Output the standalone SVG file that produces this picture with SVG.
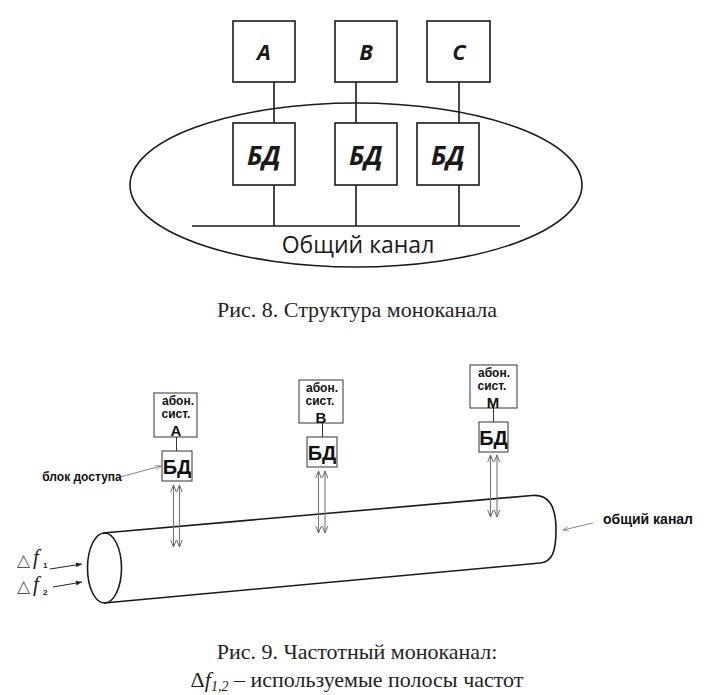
<svg xmlns="http://www.w3.org/2000/svg" width="718" height="695" viewBox="0 0 718 695">
<style>
.box{fill:#fff;stroke:#1a1a1a;stroke-width:1.6}
.ln{stroke:#1a1a1a;stroke-width:1.6;fill:none}
.lt{font-family:"Open Sans","Noto Sans",sans-serif;font-weight:bold;font-style:italic;fill:#1a1a1a;text-anchor:middle}
.cap{font-family:"Liberation Serif",serif;fill:#222;font-size:22px;text-anchor:middle}
.b2{fill:#fff;stroke:#333;stroke-width:1}
.sm{font-family:"Liberation Sans",Arial,sans-serif;font-weight:bold;fill:#111;text-anchor:middle}
.dbl{stroke:#777;stroke-width:1.1;fill:none;marker-start:url(#chev);marker-end:url(#chev)}
</style>
<defs>
<marker id="chev" viewBox="0 0 10 10" refX="10" refY="5" markerWidth="7" markerHeight="7" markerUnits="userSpaceOnUse" orient="auto-start-reverse">
<path d="M0,1 L10,5 L0,9" fill="none" stroke="#666" stroke-width="1.4"/>
</marker>
<marker id="thin" viewBox="0 0 10 10" refX="10" refY="5" markerWidth="9" markerHeight="6" markerUnits="userSpaceOnUse" orient="auto">
<path d="M0,1 L10,5 L0,9" fill="none" stroke="#777" stroke-width="1"/>
</marker>
<marker id="solid" viewBox="0 0 10 10" refX="10" refY="5" markerWidth="8" markerHeight="6" markerUnits="userSpaceOnUse" orient="auto">
<path d="M0,1 L10,5 L0,9 Z" fill="#222"/>
</marker>
</defs>

<!-- Figure 8 -->
<g id="ellipse-channel">
<ellipse cx="356" cy="185" rx="226" ry="82" class="ln" stroke-width="1.4"/>
<text x="358" y="253" font-family="Open Sans,Noto Sans,sans-serif" font-size="23" fill="#1a1a1a" text-anchor="middle">Общий канал</text>
</g>
<g id="connectors-top">
<line x1="274" y1="82" x2="274" y2="123" class="ln"/>
<line x1="356" y1="82" x2="356" y2="123" class="ln"/>
<line x1="459" y1="82" x2="459" y2="123" class="ln"/>
<line x1="274" y1="185" x2="274" y2="226" class="ln"/>
<line x1="356" y1="185" x2="356" y2="226" class="ln"/>
<line x1="459" y1="185" x2="459" y2="226" class="ln"/>
<line x1="192" y1="226" x2="520" y2="226" class="ln" stroke-width="2.2"/>
</g>
<g id="nodeA"><rect x="233" y="21" width="62" height="61" class="box"/><text x="264" y="59.5" class="lt" font-size="22">A</text></g>
<g id="nodeB"><rect x="335" y="21" width="62" height="61" class="box"/><text x="366" y="59.5" class="lt" font-size="22">B</text></g>
<g id="nodeC"><rect x="427" y="21" width="63" height="61" class="box"/><text x="459" y="59.5" class="lt" font-size="22">C</text></g>
<g id="bd1"><rect x="233" y="123" width="62" height="62" class="box"/><text x="264" y="165" class="lt" font-size="26">БД</text></g>
<g id="bd2"><rect x="335" y="123" width="62" height="62" class="box"/><text x="366" y="165" class="lt" font-size="26">БД</text></g>
<g id="bd3"><rect x="417" y="123" width="62" height="62" class="box"/><text x="448" y="165" class="lt" font-size="26">БД</text></g>
<text x="357" y="317" class="cap">Рис. 8. Структура моноканала</text>

<!-- Figure 9 -->
<g id="cylinder">
<path d="M103,533 L532,495.5 C548,494 556,505 556,530 C556,552 552,562 540,563 L104,603" class="ln" stroke-width="1.6"/>
<ellipse cx="104.5" cy="568" rx="17" ry="35" class="ln" stroke-width="1.6"/>
</g>
<g id="connectors-bottom">
<line x1="176.5" y1="437" x2="176.5" y2="451" stroke="#333" stroke-width="1"/>
<line x1="322.5" y1="423" x2="322.5" y2="437" stroke="#333" stroke-width="1"/>
<line x1="493.5" y1="408" x2="493.5" y2="422" stroke="#333" stroke-width="1"/>
<line x1="173.5" y1="485" x2="173.5" y2="547" class="dbl"/>
<line x1="179.5" y1="485" x2="179.5" y2="547" class="dbl"/>
<line x1="318.5" y1="471" x2="318.5" y2="533" class="dbl"/>
<line x1="325" y1="471" x2="325" y2="533" class="dbl"/>
<line x1="490.5" y1="455" x2="490.5" y2="517" class="dbl"/>
<line x1="497" y1="455" x2="497" y2="517" class="dbl"/>
<line x1="120" y1="477" x2="161" y2="466" stroke="#777" stroke-width="0.9" marker-end="url(#thin)"/>
<line x1="593" y1="523" x2="563" y2="530" stroke="#777" stroke-width="0.9" marker-end="url(#thin)"/>
<line x1="50" y1="569" x2="82" y2="564" stroke="#222" stroke-width="1" marker-end="url(#solid)"/>
<line x1="53" y1="587" x2="82" y2="582" stroke="#222" stroke-width="1" marker-end="url(#solid)"/>
</g>
<g id="abonA"><rect x="154" y="393" width="43" height="44" class="b2"/>
<text x="178" y="405" class="sm" font-size="12">абон.</text><text x="176" y="418" class="sm" font-size="12">сист.</text><text x="176" y="436" class="sm" font-size="15">А</text></g>
<g id="bdA"><rect x="162" y="451" width="30" height="30" class="b2"/><text x="177" y="473.5" class="sm" font-size="20">БД</text></g>
<g id="abonB"><rect x="299" y="380" width="44" height="43" class="b2"/>
<text x="322" y="392" class="sm" font-size="12">абон.</text><text x="320" y="405" class="sm" font-size="12">сист.</text><text x="321" y="423" class="sm" font-size="15">В</text></g>
<g id="bdB"><rect x="307" y="437" width="30" height="30" class="b2"/><text x="322" y="459.5" class="sm" font-size="20">БД</text></g>
<g id="abonM"><rect x="470" y="365" width="47" height="43" class="b2"/>
<text x="494" y="377" class="sm" font-size="12">абон.</text><text x="492" y="390" class="sm" font-size="12">сист.</text><text x="493" y="408" class="sm" font-size="15">М</text></g>
<g id="bdM"><rect x="479" y="422" width="29" height="30" class="b2"/><text x="493.5" y="444.5" class="sm" font-size="20">БД</text></g>
<text x="82" y="481" class="sm" font-size="12">блок доступа</text>
<text x="648" y="524" class="sm" font-size="14">общий канал</text>
<g id="df-labels" fill="#222">
<text x="17" y="566" font-family="DejaVu Sans,sans-serif" font-size="17" fill="#555">△</text>
<text x="33" y="564" font-family="Liberation Serif,serif" font-style="italic" font-size="21">f</text>
<text x="43" y="568" font-family="Liberation Sans,sans-serif" font-weight="bold" font-size="8">1</text>
<text x="17" y="592" font-family="DejaVu Sans,sans-serif" font-size="17" fill="#555">△</text>
<text x="33" y="591" font-family="Liberation Serif,serif" font-style="italic" font-size="21">f</text>
<text x="43" y="595" font-family="Liberation Sans,sans-serif" font-weight="bold" font-size="8">2</text>
</g>
<text x="357" y="659" class="cap">Рис. 9. Частотный моноканал:</text>
<text x="357" y="687" class="cap">Δ<tspan font-style="italic">f</tspan><tspan font-style="italic" font-size="14" dy="4">1,2</tspan><tspan dy="-4"> – используемые полосы частот</tspan></text>
</svg>
